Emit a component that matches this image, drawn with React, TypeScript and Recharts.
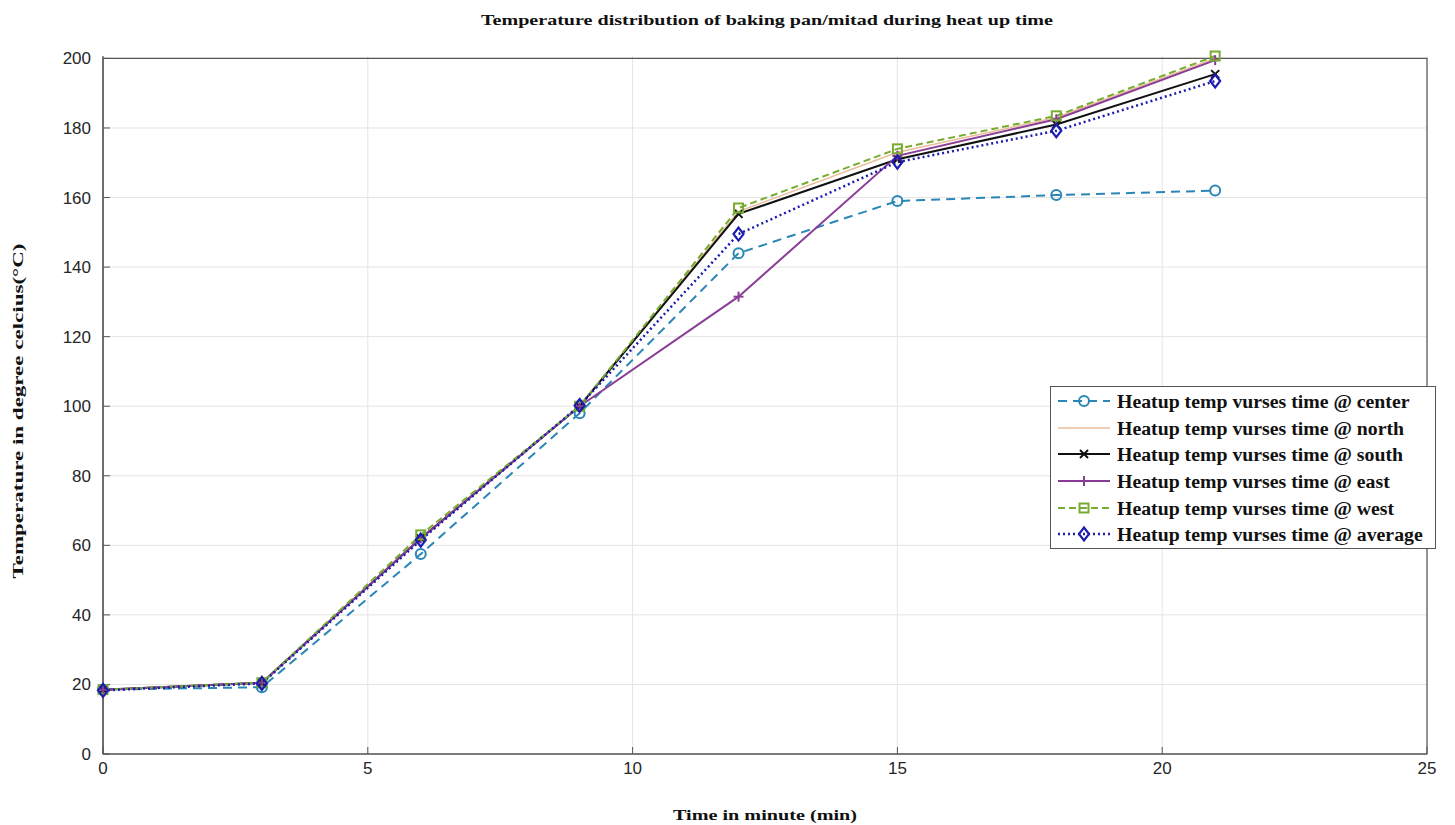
import React from 'react';
import { LineChart, Line, XAxis, YAxis, CartesianGrid, ReferenceArea } from 'recharts';

const times = [0, 3, 6, 9, 12, 15, 18, 21];
const center = [18.5, 19.2, 57.5, 98, 144, 159, 160.7, 162];
const north = [18.5, 20.5, 62, 100, 156, 173, 183, 200];
const south = [18.5, 20.5, 62, 100, 155.3, 171, 181, 195.5];
const east = [18.5, 20.5, 62, 100, 131.5, 172, 182.5, 199.5];
const west = [18.5, 20.5, 63, 100, 157, 174, 183.5, 200.7];
const average = [18.3, 20.3, 61.5, 100.2, 149.5, 170.2, 179.2, 193.5];

const xTicks = [0, 5, 10, 15, 20, 25];
const yTicks = [0, 20, 40, 60, 80, 100, 120, 140, 160, 180, 200];

const data = times.map((t, i) => ({
  t,
  center: center[i],
  north: north[i],
  south: south[i],
  east: east[i],
  west: west[i],
  average: average[i],
}));

type MarkerKind = 'circle' | 'none' | 'x' | 'plus' | 'square' | 'diamond';

const drawMarker = (kind: MarkerKind, cx: number, cy: number, color: string, key?: any) => {
  if (kind === 'circle') return <circle key={key} cx={cx} cy={cy} r={5} fill="none" stroke={color} strokeWidth={2} />;
  if (kind === 'x') return (
    <g key={key}>
      <line x1={cx - 4} y1={cy - 4} x2={cx + 4} y2={cy + 4} stroke={color} strokeWidth={2} />
      <line x1={cx - 4} y1={cy + 4} x2={cx + 4} y2={cy - 4} stroke={color} strokeWidth={2} />
    </g>
  );
  if (kind === 'plus') return (
    <g key={key}>
      <line x1={cx - 5} y1={cy} x2={cx + 5} y2={cy} stroke={color} strokeWidth={2} />
      <line x1={cx} y1={cy - 5} x2={cx} y2={cy + 5} stroke={color} strokeWidth={2} />
    </g>
  );
  if (kind === 'square') return <rect key={key} x={cx - 4.5} y={cy - 4.5} width={9} height={9} fill="none" stroke={color} strokeWidth={2} />;
  if (kind === 'diamond') return <path key={key} d={`M${cx},${cy - 6.5}L${cx + 5},${cy}L${cx},${cy + 6.5}L${cx - 5},${cy}Z`} fill="none" stroke={color} strokeWidth={2.2} />;
  return <g key={key} />;
};

const series = [
  { key: 'center', name: 'Heatup temp vurses time @ center', color: '#2a86b6', dash: '9 6', width: 2, marker: 'circle' as MarkerKind },
  { key: 'north', name: 'Heatup temp vurses time @ north', color: '#e9bd9a', dash: undefined, width: 1.5, marker: 'none' as MarkerKind },
  { key: 'south', name: 'Heatup temp vurses time @ south', color: '#111111', dash: undefined, width: 2, marker: 'x' as MarkerKind },
  { key: 'east', name: 'Heatup temp vurses time @ east', color: '#8a3d96', dash: undefined, width: 2, marker: 'plus' as MarkerKind },
  { key: 'west', name: 'Heatup temp vurses time @ west', color: '#77ac30', dash: '7 4', width: 2, marker: 'square' as MarkerKind },
  { key: 'average', name: 'Heatup temp vurses time @ average', color: '#1c1cb0', dash: '2 3', width: 2.5, marker: 'diamond' as MarkerKind },
];

const serif = '"Liberation Serif", "Times New Roman", serif';
const tickStyle = { fontFamily: '"Liberation Sans", Arial, sans-serif', fontSize: 17, fill: '#262626' };

const LegendBox = () => (
  <div
    style={{
      position: 'absolute',
      left: 1050,
      top: 386,
      width: 386,
      height: 163,
      border: '1.5px solid #555',
      background: '#fff',
      padding: '1px 0 0 6px',
      boxSizing: 'border-box',
      zIndex: 3,
    }}
  >
    {series.map((s) => (
      <div key={s.key} style={{ display: 'flex', alignItems: 'center', height: 26.6 }}>
        <svg width={54} height={20} style={{ marginRight: 6, flexShrink: 0 }}>
          <line x1={1} y1={10} x2={53} y2={10} stroke={s.color} strokeWidth={s.width} strokeDasharray={s.dash} />
          {drawMarker(s.marker, 27, 10, s.color)}
        </svg>
        <span style={{ fontFamily: serif, fontWeight: 'bold', fontSize: 19.8, color: '#111', whiteSpace: 'nowrap', lineHeight: '22px' }}>
          {s.name}
        </span>
      </div>
    ))}
  </div>
);

const Labels = () => (
  <svg width={1455} height={825} style={{ position: 'absolute', left: 0, top: 0, pointerEvents: 'none', zIndex: 2 }}>
    <text x={767} y={25} textAnchor="middle" fontFamily={serif} fontWeight="bold" fontSize={15} fill="#111" textLength={572} lengthAdjust="spacingAndGlyphs">
      Temperature distribution of baking pan/mitad during heat up time
    </text>
    <text x={765} y={820} textAnchor="middle" fontFamily={serif} fontWeight="bold" fontSize={15.5} fill="#111" textLength={184} lengthAdjust="spacingAndGlyphs">
      Time in minute (min)
    </text>
    <text x={23} y={411} transform="rotate(-90 23 411)" textAnchor="middle" fontFamily={serif} fontWeight="bold" fontSize={15.5} fill="#111" textLength={335} lengthAdjust="spacingAndGlyphs">
      Temperature in degree celcius(°C)
    </text>
  </svg>
);

export default function App() {
  return (
    <div style={{ position: 'absolute', left: 0, top: 0, width: 1455, height: 825, background: '#fff' }}>
      <LineChart width={1455} height={825} data={data} margin={{ top: 56, right: 28, bottom: 0, left: 0 }}>
        <CartesianGrid stroke="#e4e4e4" strokeWidth={1} horizontalValues={yTicks} verticalValues={xTicks} />
        <XAxis
          dataKey="t"
          type="number"
          domain={[0, 25]}
          ticks={xTicks}
          height={71}
          tick={tickStyle}
          tickSize={-7}
          tickLine={{ stroke: '#555', strokeWidth: 1 }}
          tickMargin={15}
          axisLine={{ stroke: '#555', strokeWidth: 1.2 }}
        />
        <YAxis
          type="number"
          domain={[0, 200]}
          ticks={yTicks}
          width={103}
          tick={tickStyle}
          tickSize={-7}
          tickLine={{ stroke: '#555', strokeWidth: 1 }}
          tickMargin={19}
          axisLine={{ stroke: '#555', strokeWidth: 1.2 }}
        />
        <ReferenceArea x1={0} x2={25} y1={0} y2={200} fill="none" stroke="#555" strokeWidth={1.2} ifOverflow="visible" />
        {series.map((s) => (
          <Line
            key={s.key}
            dataKey={s.key}
            name={s.name}
            type="linear"
            stroke={s.color}
            strokeWidth={s.width}
            strokeDasharray={s.dash}
            isAnimationActive={false}
            dot={(p: any) => drawMarker(s.marker, p.cx, p.cy, s.color, `${s.key}-${p.index}`)}
            activeDot={false}
          />
        ))}
      </LineChart>
      <Labels />
      <LegendBox />
    </div>
  );
}
